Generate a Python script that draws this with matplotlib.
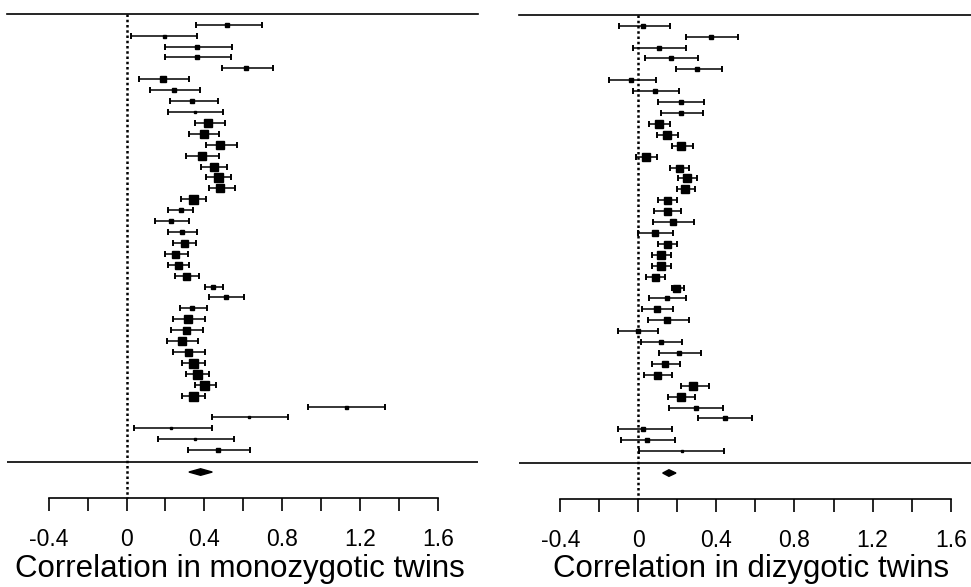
import matplotlib
matplotlib.use("Agg")
import matplotlib.pyplot as plt
from matplotlib.transforms import blended_transform_factory

plt.rcParams["font.family"] = ["Liberation Sans", "DejaVu Sans"]

# monozygotic twins: estimate, lower CI, upper CI, study weight (relative)
mz_est = [0.516, 0.191, 0.362, 0.362, 0.615, 0.188, 0.243, 0.338, 0.350, 0.419,
          0.398, 0.480, 0.386, 0.448, 0.468, 0.480, 0.340, 0.277, 0.229, 0.284,
          0.297, 0.248, 0.263, 0.304, 0.446, 0.508, 0.338, 0.318, 0.304, 0.284,
          0.318, 0.342, 0.362, 0.397, 0.342, 1.125, 0.629, 0.229, 0.352, 0.470]
mz_lo = [0.354, 0.022, 0.198, 0.198, 0.491, 0.063, 0.118, 0.221, 0.212, 0.349,
         0.321, 0.410, 0.306, 0.383, 0.409, 0.424, 0.280, 0.212, 0.144, 0.212,
         0.239, 0.197, 0.212, 0.251, 0.402, 0.424, 0.275, 0.239, 0.226, 0.207,
         0.239, 0.287, 0.306, 0.350, 0.287, 0.932, 0.436, 0.036, 0.159, 0.315]
mz_hi = [0.694, 0.361, 0.540, 0.535, 0.750, 0.323, 0.376, 0.470, 0.496, 0.504,
         0.477, 0.566, 0.472, 0.513, 0.538, 0.554, 0.410, 0.342, 0.323, 0.361,
         0.356, 0.315, 0.323, 0.371, 0.497, 0.602, 0.415, 0.403, 0.393, 0.369,
         0.403, 0.403, 0.422, 0.458, 0.403, 1.326, 0.829, 0.436, 0.552, 0.632]
mz_weight = [3.5, 3, 3.5, 4, 5, 6, 5, 5, 2.5, 8,
             8, 8, 8, 8, 9, 8, 9, 5, 5, 5,
             7, 7, 7, 7, 5, 5, 5, 8, 7, 8,
             7, 9, 9, 9, 9, 3, 2, 2, 2, 3.5]
mz_pooled = (0.38, 0.32, 0.44)

# dizygotic twins
dz_est = [0.024, 0.371, 0.104, 0.166, 0.301, -0.038, 0.085, 0.220, 0.220, 0.104,
          0.145, 0.220, 0.038, 0.207, 0.251, 0.241, 0.145, 0.145, 0.176, 0.087,
          0.145, 0.114, 0.114, 0.085, 0.193, 0.145, 0.096, 0.145, -0.003, 0.114,
          0.207, 0.137, 0.096, 0.282, 0.220, 0.295, 0.444, 0.024, 0.044, 0.222]
dz_lo = [-0.101, 0.244, -0.027, 0.036, 0.191, -0.149, -0.027, 0.102, 0.116, 0.055,
         0.096, 0.171, -0.014, 0.162, 0.203, 0.196, 0.102, 0.082, 0.073, 0.000,
         0.102, 0.068, 0.068, 0.039, 0.171, 0.053, 0.020, 0.048, -0.106, 0.014,
         0.108, 0.068, 0.029, 0.219, 0.150, 0.155, 0.306, -0.106, -0.087, 0.005]
dz_hi = [0.164, 0.511, 0.244, 0.304, 0.427, 0.089, 0.210, 0.338, 0.333, 0.162,
         0.203, 0.278, 0.096, 0.258, 0.301, 0.292, 0.198, 0.219, 0.285, 0.178,
         0.198, 0.169, 0.169, 0.137, 0.232, 0.244, 0.176, 0.258, 0.102, 0.225,
         0.319, 0.212, 0.171, 0.360, 0.292, 0.434, 0.584, 0.171, 0.190, 0.441]
dz_weight = [4.5, 4, 5, 5, 5, 5, 5, 5, 5, 7.5,
             7.5, 8, 8, 7, 8.5, 7.5, 7, 7, 6, 5.5,
             7, 7.5, 7.5, 7, 7, 5, 6, 5.5, 5, 5,
             5, 6.5, 7, 7.5, 7.5, 4, 4, 5, 5, 2]
dz_pooled = (0.157, 0.125, 0.193)

tick_vals = [-0.4, -0.2, 0, 0.2, 0.4, 0.6, 0.8, 1.0, 1.2, 1.4, 1.6]
tick_text = ["-0.4", "", "0", "", "0.4", "", "0.8", "", "1.2", "", "1.6"]

W, H = 971, 587


def forest(ax, est, lo, hi, weight, pooled, xlim, xlabel):
    rows = list(range(1, len(est) + 1))
    ax.set_xlim(*xlim)
    ax.set_ylim(44.38, 0.02)
    for s in ("top", "left", "right"):
        ax.spines[s].set_visible(False)
    ax.set_yticks([])

    # zero reference line
    ax.plot([0, 0], [0.02, 44.38], color="black", lw=1.8, ls=(0, (1, 1.1)), clip_on=False)
    # frame lines
    ax.axhline(0.02, color="black", lw=1.2, clip_on=False)
    ax.axhline(41.08, color="black", lw=1.2)

    ax.errorbar(est, rows, xerr=[[e - l for e, l in zip(est, lo)],
                                 [h - e for e, h in zip(est, hi)]],
                fmt="none", ecolor="black", elinewidth=1.1, capsize=2.0, capthick=1.4)
    for x, y, w in zip(est, rows, weight):
        ax.plot(x, y, marker="s", ms=w * 0.72, color="black", ls="none")

    p_est, p_lo, p_hi = pooled
    yd = 42.0
    hh = 0.3
    ax.fill([p_lo, p_est, p_hi, p_est], [yd, yd - hh, yd, yd + hh],
            facecolor="black", edgecolor="black", lw=1.0)

    ax.spines["bottom"].set_bounds(-0.4, 1.6)
    ax.spines["bottom"].set_linewidth(1.2)
    ax.set_xticks(tick_vals)
    ax.set_xticklabels(tick_text)
    ax.tick_params(axis="x", direction="out", length=9.5, width=1.2, pad=12, labelsize=16.5)

    tr = blended_transform_factory(ax.transData, ax.figure.transFigure)
    ax.text(0.58, 1 - 569 / H, xlabel, transform=tr, ha="center", va="center", fontsize=22.5)


fig = plt.figure(figsize=(W / 100, H / 100), dpi=100)
top_px, bot_px = 14, 498
ax1 = fig.add_axes([7 / W, 1 - bot_px / H, (478 - 7) / W, (bot_px - top_px) / H])
ax2 = fig.add_axes([519 / W, 1 - (bot_px + 1) / H, (971 - 519) / W, (bot_px - top_px) / H])

forest(ax1, mz_est, mz_lo, mz_hi, mz_weight, mz_pooled, (-0.613, 1.803),
       "Correlation in monozygotic twins")
forest(ax2, dz_est, dz_lo, dz_hi, dz_weight, dz_pooled, (-0.611, 1.704),
       "Correlation in dizygotic twins")

fig.savefig("out.png", dpi=100)
